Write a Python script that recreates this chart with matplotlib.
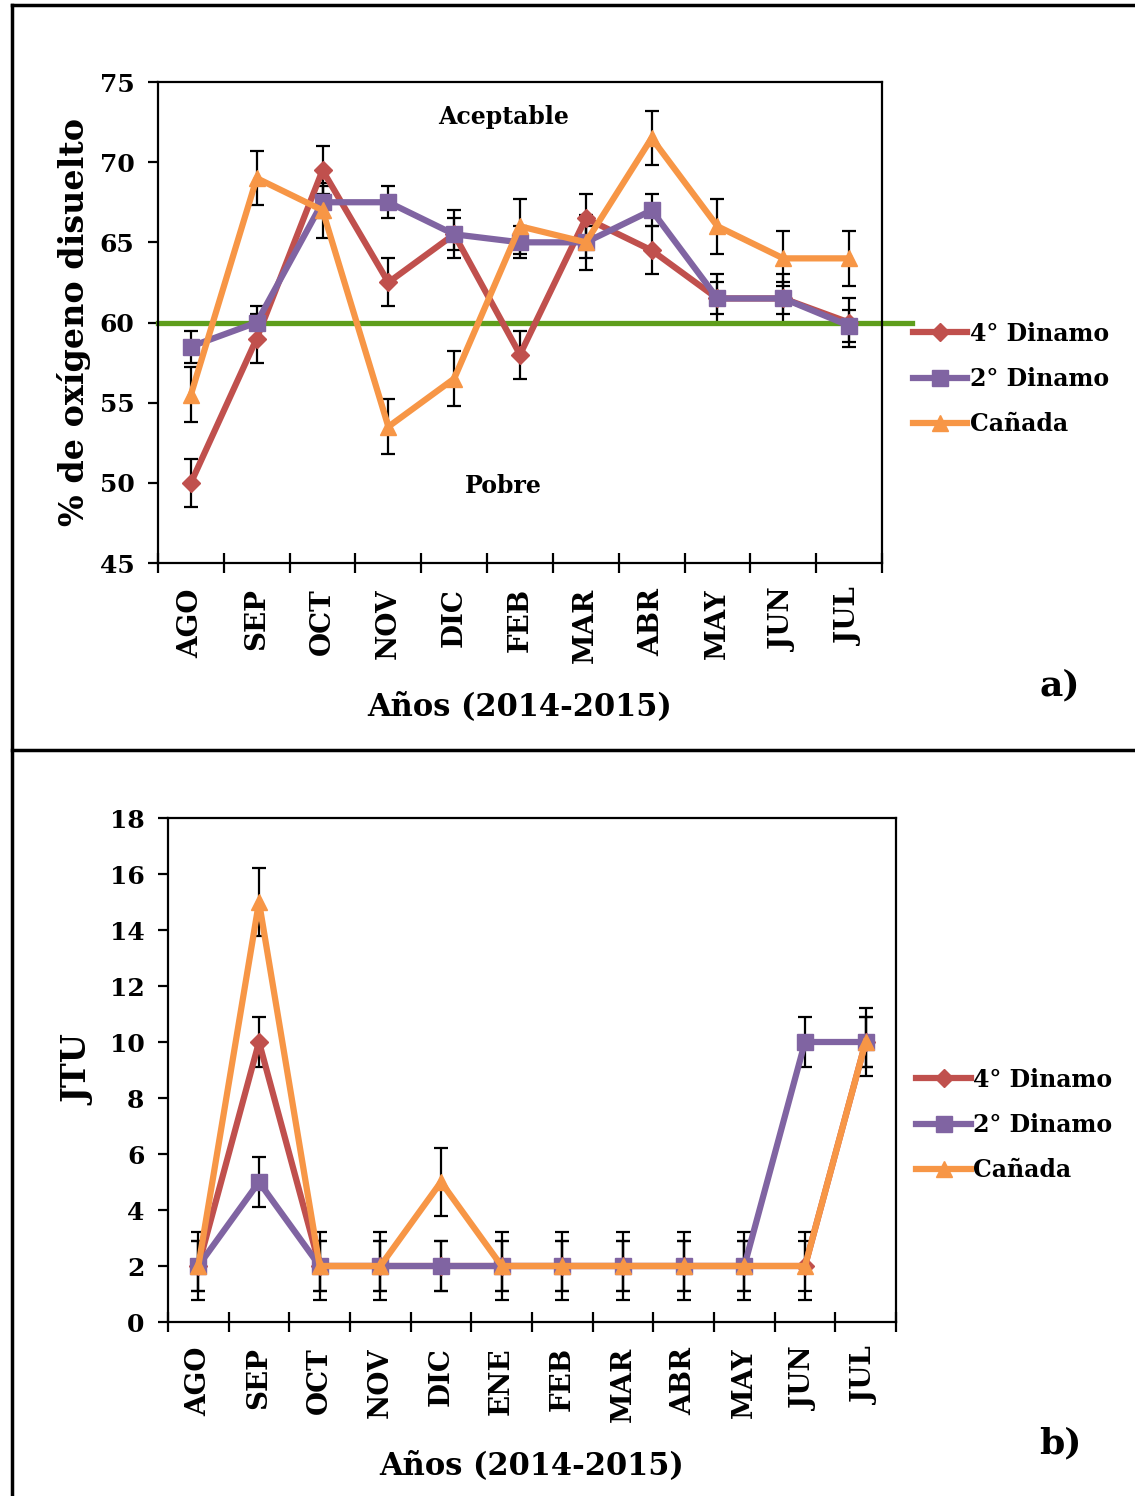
import matplotlib
matplotlib.use("Agg")
import matplotlib.pyplot as plt
from matplotlib.lines import Line2D
import numpy as np

plt.rcParams['font.family'] = 'DejaVu Serif'
plt.rcParams['font.weight'] = 'bold'
plt.rcParams['axes.labelweight'] = 'bold'

# panel a) dissolved oxygen
meses_a = ["AGO", "SEP", "OCT", "NOV", "DIC", "FEB", "MAR", "ABR", "MAY", "JUN", "JUL"]
din4_a = [50, 59, 69.5, 62.5, 65.5, 58, 66.5, 64.5, 61.5, 61.5, 60]
din2_a = [58.5, 60, 67.5, 67.5, 65.5, 65, 65, 67, 61.5, 61.5, 59.8]
canada_a = [55.5, 69, 67, 53.5, 56.5, 66, 65, 71.5, 66, 64, 64]
err4_a = [1.5] * 11
err2_a = [1.0] * 11
errc_a = [1.7] * 11
limite = 60

# panel b) JTU
meses_b = ["AGO", "SEP", "OCT", "NOV", "DIC", "ENE", "FEB", "MAR", "ABR", "MAY", "JUN", "JUL"]
din4_b = [2, 10, 2, 2, 2, 2, 2, 2, 2, 2, 2, 10]
din2_b = [2, 5, 2, 2, 2, 2, 2, 2, 2, 2, 10, 10]
canada_b = [2, 15, 2, 2, 5, 2, 2, 2, 2, 2, 2, 10]
err4_b = [0.9] * 12
err2_b = [0.9] * 12
errc_b = [1.2] * 12

nombres = ["4° Dinamo", "2° Dinamo", "Cañada"]
colores = ["#c0504d", "#8064a2", "#f79646"]
marcas = ["D", "s", "^"]
tam = [9, 12, 12]

W, H = 1135, 1496
fig = plt.figure(figsize=(W / 100, H / 100), dpi=100)


def px_axes(l, t, r, b):
    return fig.add_axes([l / W, 1 - b / H, (r - l) / W, (b - t) / H])


def panel(ax, meses, series, errores, ylim, ystep):
    x = np.arange(len(meses))
    for y, e, c, m, s, n in zip(series, errores, colores, marcas, tam, nombres):
        ax.errorbar(x, y, yerr=e, fmt="none", ecolor="black", elinewidth=1.6,
                    capsize=5, capthick=1.6, zorder=2)
        ax.plot(x, y, color=c, lw=4.5, marker=m, ms=s, label=n, zorder=3)
    ax.set_xlim(-0.5, len(meses) - 0.5)
    ax.set_ylim(*ylim)
    ax.set_yticks(np.arange(ylim[0], ylim[1] + 0.1, ystep))
    ax.set_xticks(x)
    ax.set_xticklabels(meses, rotation=90, fontsize=20)
    ax.set_xticks(np.arange(-0.5, len(meses)), minor=True)
    ax.tick_params(axis="x", which="major", length=0, pad=18)
    ax.tick_params(axis="x", which="minor", direction="inout", length=14, width=1.6)
    ax.tick_params(axis="y", direction="out", length=7, width=1.6, labelsize=18, pad=10)
    for sp in ax.spines.values():
        sp.set_linewidth(1.6)
    ax.set_xlabel("Años (2014-2015)", fontsize=22, labelpad=20)


ax1 = px_axes(158, 82, 882, 563)
panel(ax1, meses_a, [din4_a, din2_a, canada_a], [err4_a, err2_a, errc_a], (45, 75), 5)
ax1.plot([-0.5, len(meses_a) - 0.5 + 0.45], [limite, limite], color="#5e9e1c", lw=3.8,
         clip_on=False, zorder=2.5)
ax1.set_ylabel("% de oxígeno disuelto", fontsize=24, labelpad=6)
ax1.text(4.75, 72.8, "Aceptable", ha="center", va="center", fontsize=17)
ax1.text(4.75, 49.8, "Pobre", ha="center", va="center", fontsize=17)
ax1.legend(loc="center left", bbox_to_anchor=(1.03, 0.383), frameon=False, fontsize=17,
           handlelength=2.3, handletextpad=0.1, labelspacing=0.9, borderaxespad=0)

ax2 = px_axes(168, 818, 896, 1322)
panel(ax2, meses_b, [din4_b, din2_b, canada_b], [err4_b, err2_b, errc_b], (0, 18), 2)
ax2.set_ylabel("JTU", fontsize=24, labelpad=10)
ax2.legend(loc="center left", bbox_to_anchor=(1.015, 0.391), frameon=False, fontsize=17,
           handlelength=2.3, handletextpad=0.1, labelspacing=0.9, borderaxespad=0)

fig.text(1060 / W, 1 - 685 / H, "a)", ha="center", va="center", fontsize=26)
fig.text(1060 / W, 1 - 1443 / H, "b)", ha="center", va="center", fontsize=26)

# figure frame
for xs, ys in [([12, W], [5, 5]), ([12, 12], [5, H]), ([12, W], [750, 750])]:
    fig.add_artist(Line2D([v / W for v in xs], [1 - v / H for v in ys],
                          color="black", lw=2.5))

fig.savefig("out.png", dpi=100)
